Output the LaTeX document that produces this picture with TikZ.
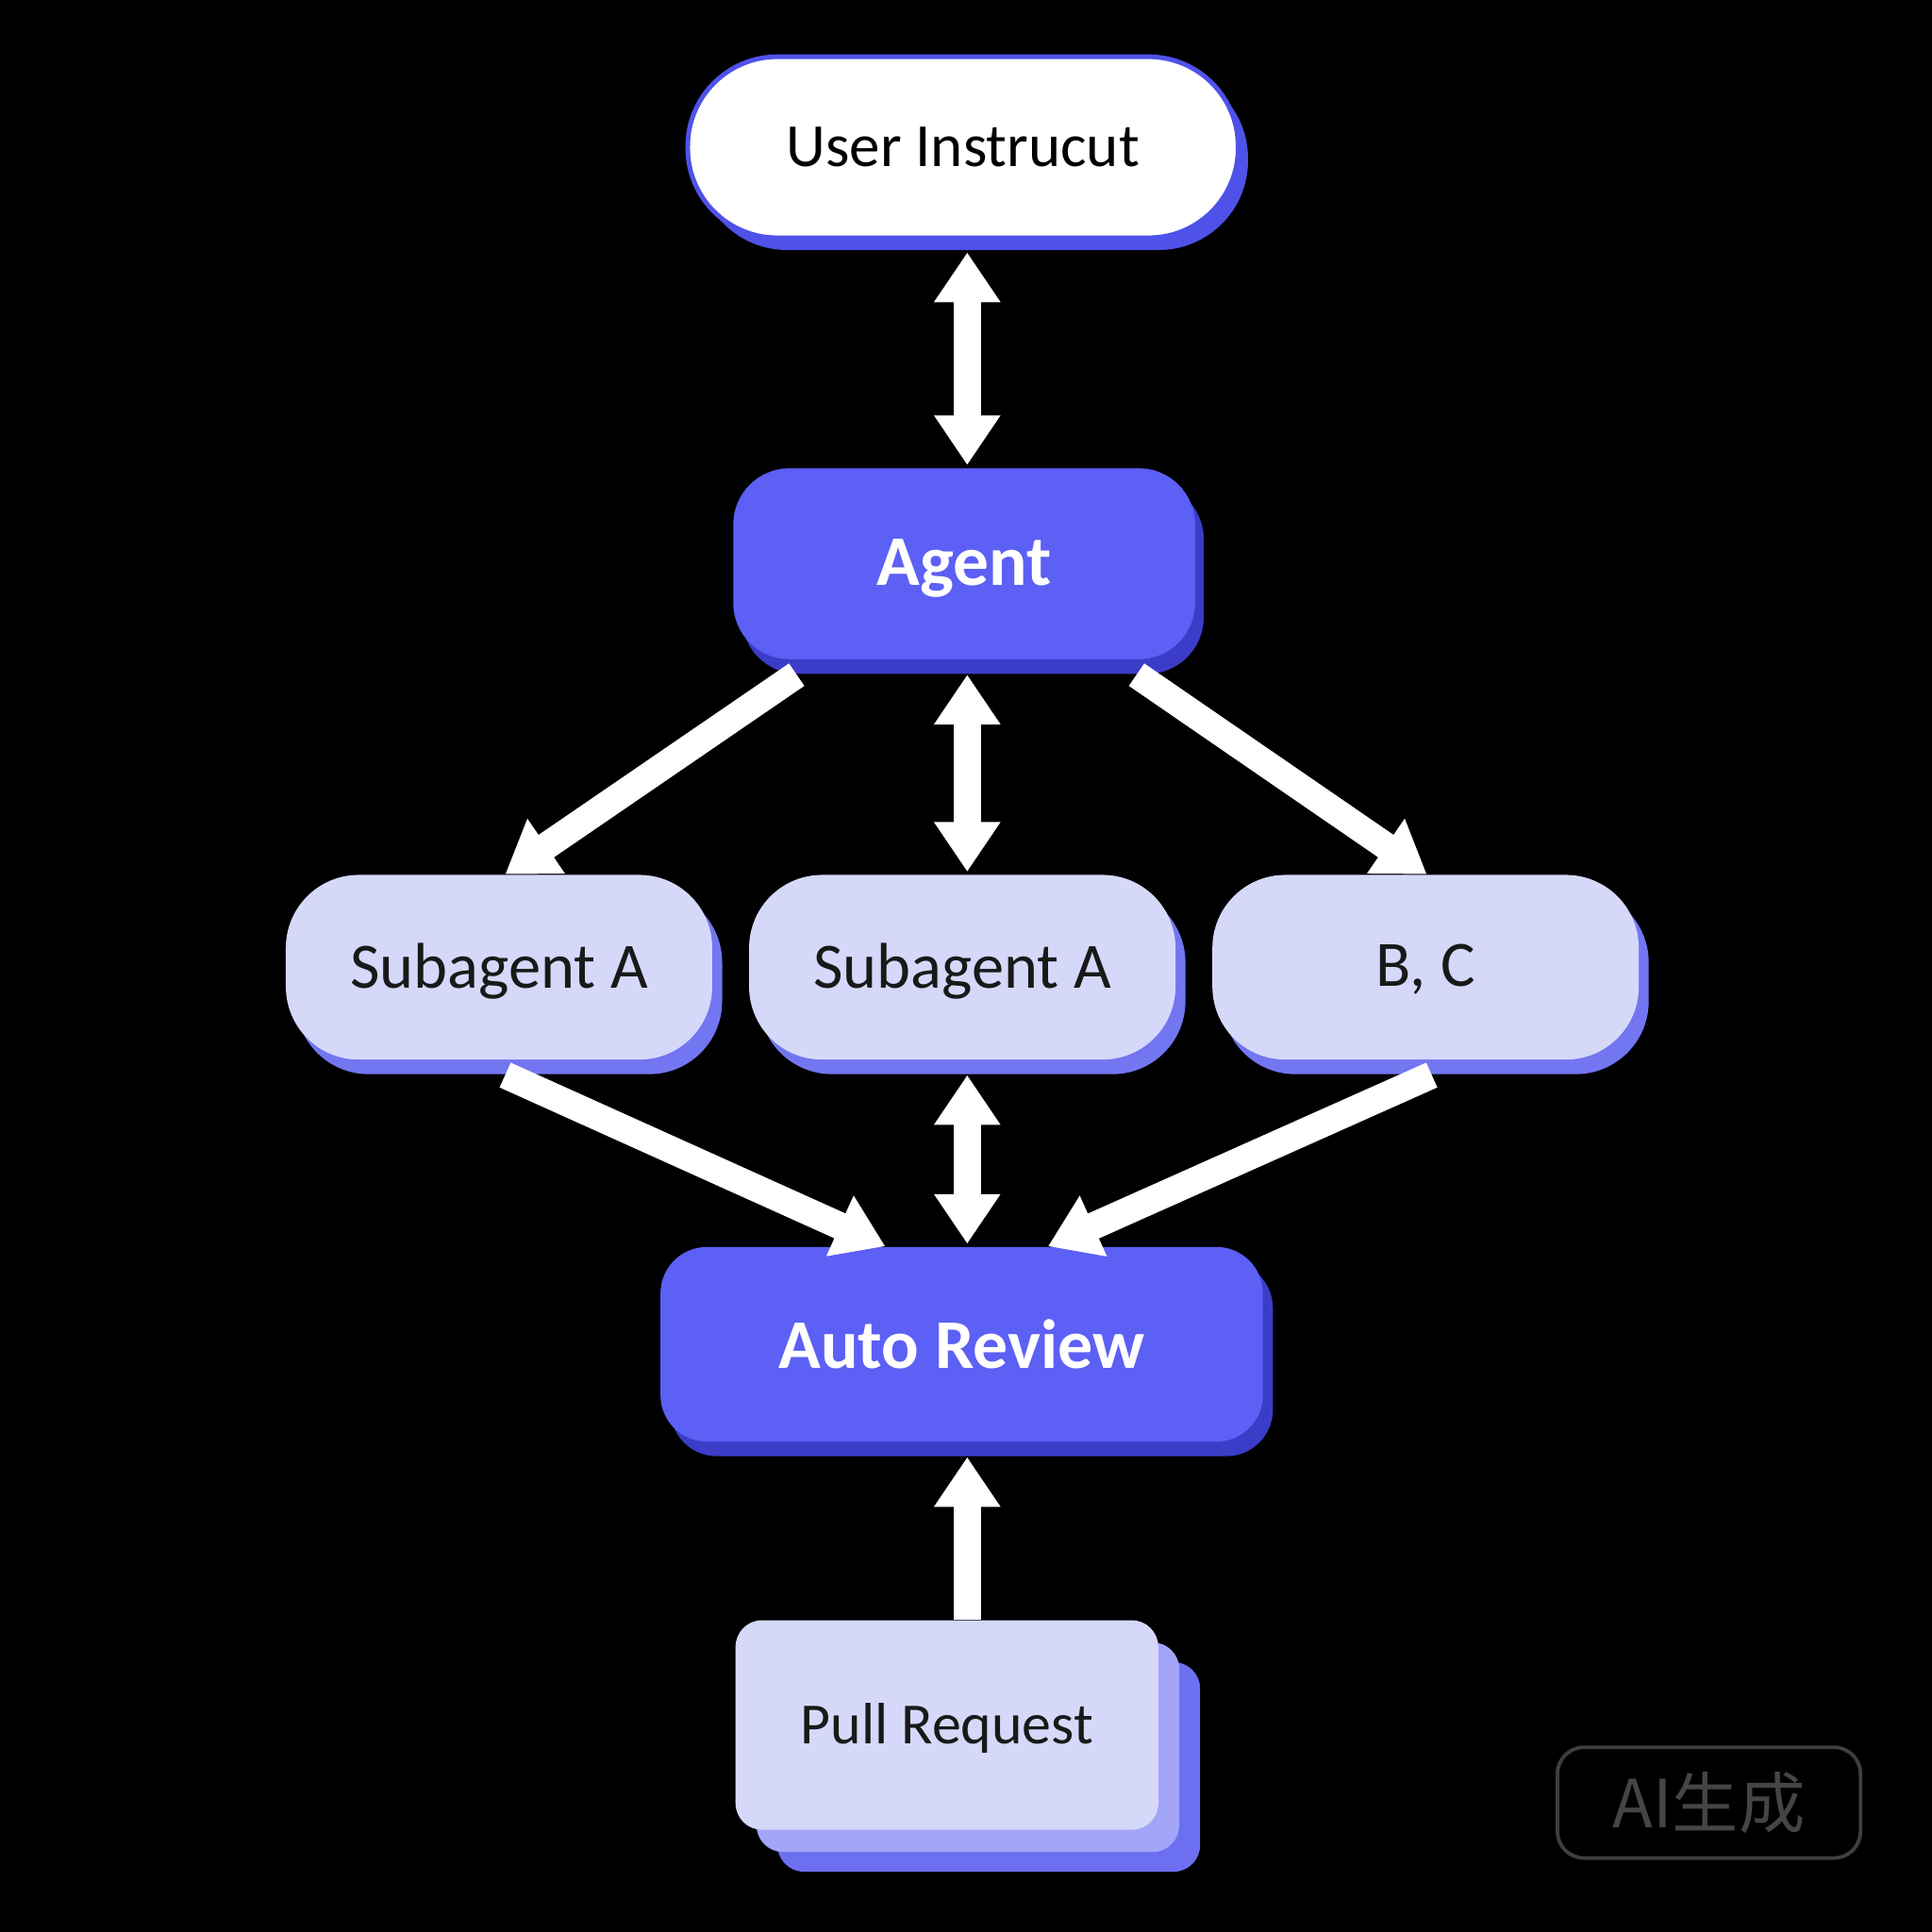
\documentclass[tikz,border=0pt]{standalone}
\usepackage{fontspec}
\setmainfont{Carlito}
\newfontfamily\cjkfont{Noto Sans CJK SC}
\usetikzlibrary{arrows.meta,shadows,calc}
\definecolor{agentblue}{HTML}{5C60F5}
\definecolor{agentshadow}{HTML}{3B3DC9}
\definecolor{lav}{HTML}{D6D8FA}
\definecolor{lavshadow}{HTML}{7276F0}
\definecolor{userborder}{HTML}{4F52E8}
\definecolor{prmid}{HTML}{A2A5F8}
\definecolor{prback}{HTML}{6C70F0}
\definecolor{wmgray}{HTML}{3E3E3E}
\definecolor{wmtext}{HTML}{454545}
\begin{document}
\begin{tikzpicture}[x=0.0130612cm,y=-0.0130612cm,
  userbox/.style={draw=userborder, line width=1.4pt, fill=white, rounded corners=27pt,
    minimum width=166pt, minimum height=54.6pt, inner sep=0pt,
    general shadow={fill=userborder, shadow xshift=3pt, shadow yshift=-3.7pt},
    font=\fontsize{18.5}{18.5}\selectfont, text=black},
  agentbox/.style={fill=agentblue, rounded corners=17pt,
    minimum width=139.3pt, minimum height=57.6pt, inner sep=0pt, text depth=1pt,
    general shadow={fill=agentshadow, shadow xshift=2.6pt, shadow yshift=-4.4pt},
    font=\bfseries\fontsize{21.5}{21.5}\selectfont, text=white},
  subbox/.style={fill=lav, rounded corners=22pt,
    minimum width=128.6pt, minimum height=55.7pt, inner sep=0pt, text depth=1pt,
    general shadow={fill=lavshadow, shadow xshift=3pt, shadow yshift=-4.4pt},
    font=\fontsize{19.5}{19.5}\selectfont, text=black!90},
  reviewbox/.style={fill=agentblue, rounded corners=14pt,
    minimum width=181.7pt, minimum height=58.7pt, inner sep=0pt,
    general shadow={fill=agentshadow, shadow xshift=3pt, shadow yshift=-4.4pt},
    font=\bfseries\fontsize{21}{21}\selectfont, text=white},
  prbox/.style={fill=lav, rounded corners=8pt,
    minimum width=127.5pt, minimum height=63.2pt, inner sep=0pt, text depth=1pt,
    font=\fontsize{17.6}{17.6}\selectfont, text=black!90},
  prlayer/.style={rounded corners=8pt, minimum width=127.5pt, minimum height=63.2pt, inner sep=0pt},
  wmbox/.style={draw=wmgray, line width=1.1pt, rounded corners=8pt,
    minimum width=91.4pt, minimum height=33.4pt, inner sep=0pt,
    font=\cjkfont\fontsize{20}{20}\selectfont, text=wmtext},
  flow/.style={draw=white, line width=8.2pt, -{Triangle[width=19pt,length=15pt]}},
  bidir/.style={draw=white, line width=8.2pt, {Triangle[width=19pt,length=15pt]}-{Triangle[width=19pt,length=15pt]}}
]
\fill[black] (0,0) rectangle (1568,1568);

\node[userbox] (user) at (781.5,119.5) {User Instrucut};
\node[agentbox] (agent) at (782.5,457.5) {Agent};
\node[subbox] (subL) at (405,785) {Subagent A};
\node[subbox] (subM) at (781,785) {Subagent A};
\node[subbox] (subR) at (1157,785) {B, C};
\node[reviewbox] (review) at (780.5,1091) {Auto Review};

\coordinate (prc) at (768.5,1400);
\node[prlayer, fill=prback] (prl2) at ($(prc)+(34,34)$) {};
\node[prlayer, fill=prmid] (prl1) at ($(prc)+(17,18)$) {};
\node[prbox] (pr) at (prc) {Pull Request};

\node[wmbox] (wm) at (1387,1463) {AI生成};

\coordinate (ax) at (785,0);
\draw[bidir] ($(user.south -| ax)+(0,10)$) -- ($(agent.north -| ax)+(0,-2)$);
\draw[bidir] ($(agent.south -| ax)+(0,12)$) -- ($(subM.north -| ax)+(0,-2)$);
\draw[flow] ($(agent.south west)+(52,12)$) -- ($(subL.north)+(5,0)$);
\draw[flow] ($(agent.south east)+(-48,12)$) -- ($(subR.north)+(1,0)$);
\draw[flow] ($(subL.south)+(5,12)$) -- ($(review.north)+(-62,0)$);
\draw[bidir] ($(subM.south -| ax)+(0,12)$) -- ($(review.north -| ax)+(0,-2)$);
\draw[flow] ($(subR.south)+(5,12)$) -- ($(review.north)+(70,0)$);
\draw[flow] (pr.north -| ax) -- ($(review.south -| ax)+(0,12)$);
\end{tikzpicture}
\end{document}
